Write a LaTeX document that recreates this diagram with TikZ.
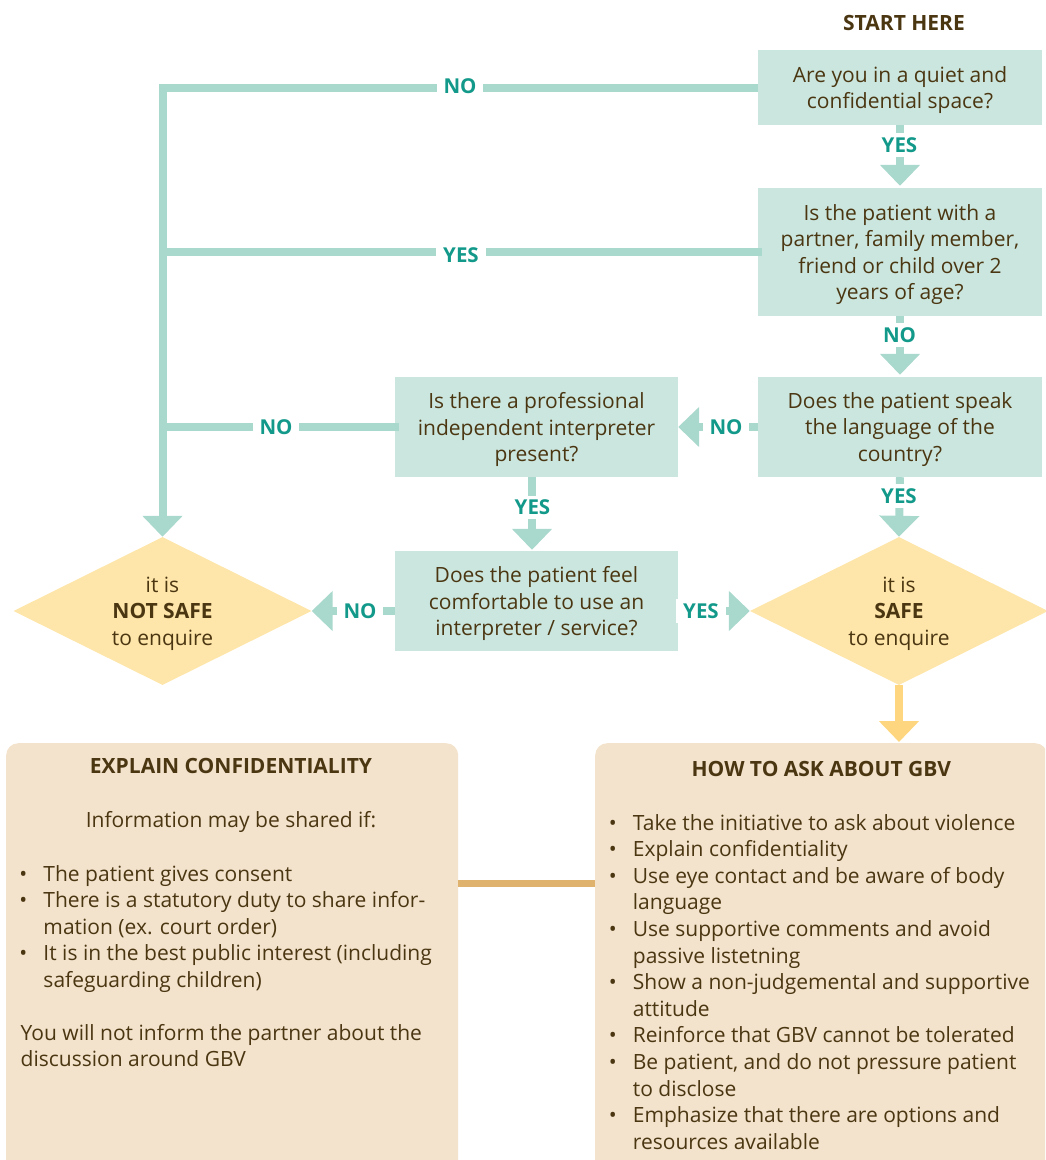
\documentclass[tikz,border=0pt]{standalone}
\usepackage{fontspec}
\setmainfont{Open Sans}
\usetikzlibrary{shapes.geometric,arrows.meta}
\definecolor{boxteal}{HTML}{CAE6DE}
\definecolor{arrteal}{HTML}{A9D8CC}
\definecolor{labteal}{HTML}{12998A}
\definecolor{txt}{HTML}{4B3612}
\definecolor{dfill}{HTML}{FEE5A9}
\definecolor{yarr}{HTML}{FDD67F}
\definecolor{cream}{HTML}{F3E3CC}
\definecolor{tanline}{HTML}{DFB36D}
\begin{document}
\begin{tikzpicture}[x=1pt,y=-1pt,
  every node/.style={font=\fontsize{21}{26.6}\selectfont, text=txt},
  qbox/.style={fill=boxteal, minimum width=284pt, align=center, inner sep=0pt, text depth=0pt},
  dia/.style={shape=diamond, shape aspect=2, fill=dfill, minimum width=298pt, minimum height=148pt, inner sep=0pt, align=center, text depth=0pt},
  cbox/.style={fill=cream, rounded corners=12pt, anchor=north west, minimum width=452pt, minimum height=440pt, inner sep=0pt},
  tarrow/.style={draw=arrteal, line width=8pt, -{Triangle[width=39pt,length=21pt]}},
  tline/.style={draw=arrteal, line width=8pt},
  yarrow/.style={draw=yarr, line width=8pt, -{Triangle[width=39pt,length=21pt]}},
  labl/.style={font=\fontsize{20.5}{24}\bfseries\selectfont, text=labteal, fill=white, inner xsep=7pt, inner ysep=4pt},
  ttl/.style={font=\fontsize{21}{26.6}\bfseries\selectfont, anchor=base},
  blist/.style={anchor=base west, inner sep=0pt}
]
\useasboundingbox (0,0) rectangle (1045,1160);

% title
\node[ttl] (start) at (904,30) {START HERE};

% question boxes
\node[qbox, minimum height=75pt] (b1) at (900,87.5) {Are you in a quiet and\\confidential space?};
\node[qbox, minimum height=128pt] (b2) at (900,252) {Is the patient with a\\partner, family member,\\friend or child over 2\\years of age?};
\node[qbox, minimum height=100pt] (b3) at (900,427) {Does the patient speak\\the language of the\\country?};
\node[qbox, minimum width=283pt, minimum height=100pt] (b4) at (536.5,427) {Is there a professional\\independent interpreter\\present?};
\node[qbox, minimum width=283pt, minimum height=100pt] (b5) at (536.5,601) {Does the patient feel\\comfortable to use an\\interpreter / service?};

% diamonds
\node[dia] (ns) at (162.5,611) {it is\\\textbf{NOT SAFE}\\to enquire};
\node[dia] (sf) at (899,611) {it is\\\textbf{SAFE}\\to enquire};

% bottom boxes
\begin{scope}
\clip (0,0) rectangle (1045,1160);
\node[cbox] (conf) at (6,743) {};
\node[cbox] (how) at (595,743) {};
\end{scope}

% connectors
\coordinate (ax) at (532,0);
\coordinate (cy) at (0,883.6);
\draw[tarrow, shorten >=2pt] (b1.south) -- (b2.north);
\draw[tarrow, shorten >=2pt] (b2.south) -- (b3.north);
\draw[tarrow] (b3.south) -- (sf.north);
\draw[tarrow] (b3.west) -- (b4.east);
\draw[tarrow, shorten >=1pt] (b4.south -| ax) -- (b5.north -| ax);
\draw[tarrow] (b5.west |- ns.east) -- (ns.east);
\draw[tarrow] (b5.east |- sf.west) -- (sf.west);
\draw[tarrow, line join=miter] (b1.west) -| (ns.north);
\draw[tline, line cap=rect] (b2.west) -- (b2.west -| ns.north);
\draw[tline, line cap=rect] (b4.west) -- (b4.west -| ns.north);
\draw[yarrow, shorten >=1pt] (sf.south) -- (how.north -| sf.south);
\draw[draw=tanline, line width=7pt] (conf.east |- cy) -- (how.west |- cy);

% labels
\node[labl] (l1) at (899.5,145) {YES};
\node[labl] (l2) at (899.5,335) {NO};
\node[labl] (l3) at (726,427) {NO};
\node[labl] (l4) at (899,496) {YES};
\node[labl] (l5) at (532.5,507.5) {YES};
\node[labl] (l6) at (360,611) {NO};
\node[labl] (l7) at (701,611) {YES};
\node[labl] (l8) at (460,86) {NO};
\node[labl] (l9) at (461,255) {YES};
\node[labl] (l10) at (276,427) {NO};

% left box content
\node[ttl] (ct) at (231,773.3) {EXPLAIN CONFIDENTIALITY};
\node[anchor=base, inner sep=0pt] (ci) at (231,827.3) {Information may be shared if:};
\node[blist] (cl) at (19.3,881) {\begin{tabular}[t]{@{}p{24pt}@{}l@{}}
•& The patient gives consent\\
•& There is a statutory duty to share infor-\\
 & mation (ex. court order)\\
•& It is in the best public interest (including\\
 & safeguarding children)
\end{tabular}};
\node[blist] (cn) at (20.5,1040) {\begin{tabular}[t]{@{}l@{}}
You will not inform the partner about the\\
discussion around GBV
\end{tabular}};

% right box content
\node[ttl] (ht) at (821.3,776.7) {HOW TO ASK ABOUT GBV};
\node[blist] (hl) at (608.7,830) {\begin{tabular}[t]{@{}p{24pt}@{}l@{}}
•& Take the initiative to ask about violence\\
•& Explain confidentiality\\
•& Use eye contact and be aware of body\\
 & language\\
•& Use supportive comments and avoid\\
 & passive listetning\\
•& Show a non-judgemental and supportive\\
 & attitude\\
•& Reinforce that GBV cannot be tolerated\\
•& Be patient, and do not pressure patient\\
 & to disclose\\
•& Emphasize that there are options and\\
 & resources available
\end{tabular}};
\end{tikzpicture}
\end{document}
